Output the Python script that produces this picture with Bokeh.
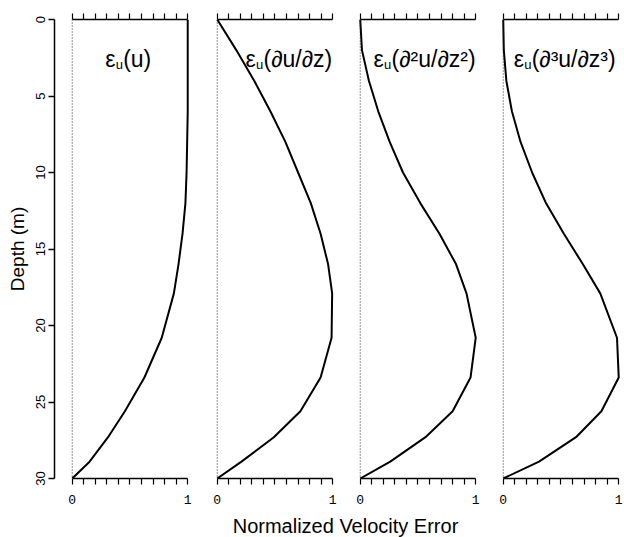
from bokeh.plotting import figure
from bokeh.models import Range1d, LinearAxis, FixedTicker, Span, Label
from bokeh.layouts import row, column
from bokeh.embed import file_html
from bokeh.resources import INLINE

# ---- data ----
depth = [0, 2, 4, 6, 8, 10, 12, 14, 16, 17.9, 20.8, 23.4, 25.6, 27.3, 28.9, 30]
err_u = [1.0, 1.0, 1.0, 1.0, 0.995, 0.99, 0.98, 0.955, 0.92, 0.88, 0.775, 0.625, 0.456, 0.31, 0.15, 0.0]
err_dudz = [0.0, 0.165, 0.32, 0.46, 0.59, 0.70, 0.81, 0.895, 0.96, 0.995, 0.99, 0.895, 0.72, 0.49, 0.21, 0.0]
err_d2 = [0.0, 0.015, 0.075, 0.156, 0.255, 0.37, 0.52, 0.686, 0.83, 0.92, 1.0, 0.955, 0.80, 0.565, 0.26, 0.0]
err_d3 = [0.0, 0.005, 0.027, 0.075, 0.15, 0.25, 0.37, 0.525, 0.69, 0.84, 0.985, 1.0, 0.85, 0.63, 0.31, 0.0]
series = [err_u, err_dudz, err_d2, err_d3]
title_tail = ["(u)", "(\u2202u/\u2202z)", "(\u2202\u00b2u/\u2202z\u00b2)", "(\u2202\u00b3u/\u2202z\u00b3)"]
title_x = [0.285, 0.245, 0.115, 0.09]
depth_ticks = [0, 5, 10, 15, 20, 25, 30]
x_major = [0, 1]
x_minor = [0.1, 0.2, 0.3, 0.4, 0.5, 0.6, 0.7, 0.8, 0.9]
x_all = [0, 0.1, 0.2, 0.3, 0.4, 0.5, 0.6, 0.7, 0.8, 0.9, 1.0]

SANS = "Liberation Sans"
TOP, FH, BOT = 19, 459, 36
PX = 115.5  # pixels per unit of normalized error


def clean(p):
    p.grid.visible = False
    p.outline_line_color = None
    p.background_fill_color = "white"
    p.border_fill_color = "white"
    p.min_border_top = TOP
    p.min_border_bottom = BOT


# ---- y axis figure ----
f0 = figure(frame_width=10, frame_height=FH, x_range=Range1d(0, 1), y_range=Range1d(30, 0),
            x_axis_location=None, y_axis_location="left", toolbar_location=None,
            output_backend="svg")
clean(f0)
f0.min_border_left = 54
f0.min_border_right = 0
ya = f0.yaxis[0]
ya.ticker = FixedTicker(ticks=depth_ticks)
ya.minor_tick_line_color = None
ya.major_tick_out = 6
ya.major_tick_in = 0
ya.axis_line_width = 1.5
ya.major_tick_line_width = 1.5
ya.major_label_orientation = "vertical"
ya.major_label_text_font = SANS
ya.major_label_text_font_size = "13px"
ya.major_label_text_color = "black"
ya.major_label_standoff = 4
ya.axis_label = "Depth (m)"
ya.axis_label_text_font = SANS
ya.axis_label_text_font_size = "19px"
ya.axis_label_text_font_style = "normal"
ya.axis_label_text_color = "black"
ya.axis_label_standoff = 5

borders = [6, 14, 12, 12]
frame_w = [131, 131, 131, 123]
panels = []
for i, (vals, tail) in enumerate(zip(series, title_tail)):
    fw = frame_w[i]
    p = figure(frame_width=fw, frame_height=FH, x_range=Range1d(-0.015, -0.015 + fw / PX),
               y_range=Range1d(30, 0), x_axis_location="below", y_axis_location=None,
               toolbar_location=None, output_backend="svg")
    clean(p)
    p.min_border_left = borders[i]
    p.min_border_right = 0
    xb = p.xaxis[0]
    xb.ticker = FixedTicker(ticks=x_major, minor_ticks=x_minor)
    xb.bounds = (0, 1)
    xb.major_tick_out = 6
    xb.major_tick_in = 0
    xb.minor_tick_out = 6
    xb.minor_tick_in = 0
    xb.minor_tick_line_color = "black"
    xb.axis_line_width = 1.5
    xb.major_tick_line_width = 1.2
    xb.minor_tick_line_width = 1.2
    xb.major_label_text_font = "Liberation Mono"
    xb.major_label_text_font_size = "13px"
    xb.major_label_text_color = "black"
    xb.major_label_standoff = 10
    top = LinearAxis(ticker=FixedTicker(ticks=[], minor_ticks=x_all), bounds=(0, 1),
                     major_tick_out=6, major_tick_in=0, minor_tick_out=6, minor_tick_in=0,
                     minor_tick_line_color="black", axis_line_width=1.5,
                     minor_tick_line_width=1.2, major_label_standoff=0)
    p.add_layout(top, "above")
    p.add_layout(Span(location=0, dimension="height", line_color="#222222",
                      line_dash="1 2", line_width=1))
    p.line(vals, depth, line_color="black", line_width=2)
    p.add_layout(Label(x=title_x[i], y=2.61, text="\u03b5", text_font=SANS,
                       text_font_size="23px", text_baseline="middle", text_color="black"))
    p.add_layout(Label(x=title_x[i], y=2.93, x_offset=10.5, text="u", text_font=SANS,
                       text_font_size="13px", text_baseline="middle", text_color="black"))
    p.add_layout(Label(x=title_x[i], y=2.61, x_offset=18, text=tail, text_font=SANS,
                       text_font_size="23px", text_baseline="middle", text_color="black"))
    panels.append(p)

# ---- shared x label ----
fl = figure(frame_width=624, frame_height=537 - TOP - FH - BOT, x_range=Range1d(0, 1),
            y_range=Range1d(0, 1), x_axis_location=None, y_axis_location=None,
            toolbar_location=None, output_backend="svg", min_border=0)
fl.grid.visible = False
fl.outline_line_color = None
fl.add_layout(Label(x=345 / 624, y=0.5, text="Normalized Velocity Error", text_font=SANS,
                    text_font_size="20px", text_align="center", text_baseline="middle",
                    text_color="black"))

layout = column(row(f0, *panels), fl)
open("out.html", "w").write(file_html(layout, INLINE))
